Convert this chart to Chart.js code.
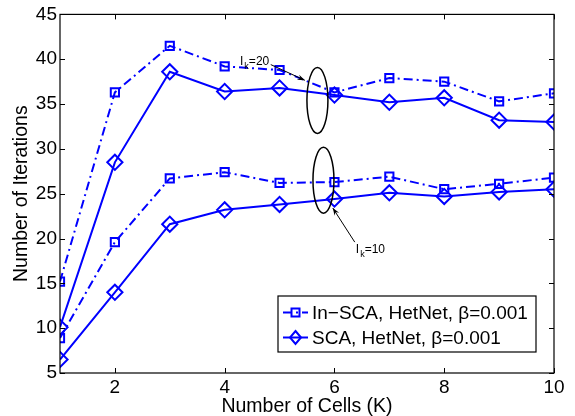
<!DOCTYPE html>
<html lang="en">
<head>
  <meta charset="UTF-8">
  <title>Number of Iterations vs Number of Cells</title>
  <script src="https://cdn.jsdelivr.net/npm/chart.js"></script>
  <style>
    body { margin: 0; background: #fff; }
    .wrap { width: 575px; height: 416px; position: relative; }
  </style>
</head>
<body>
  <div class="wrap"><canvas id="iterChart" width="575" height="416"></canvas></div>

  <script>
    // data
    const cells = [1, 2, 3, 4, 5, 6, 7, 8, 9, 10];
    const xTicks = [2, 4, 6, 8, 10];
    const yTicks = [5, 10, 15, 20, 25, 30, 35, 40, 45];

    const inSca20 = [15.2, 36.3, 41.5, 39.2, 38.8, 36.3, 37.9, 37.5, 35.3, 36.2];
    const sca20   = [10.1, 28.5, 38.6, 36.4, 36.8, 36.0, 35.2, 35.7, 33.2, 33.0];
    const inSca10 = [8.9, 19.6, 26.7, 27.4, 26.2, 26.3, 26.9, 25.5, 26.1, 26.8];
    const sca10   = [6.5, 14.0, 21.6, 23.2, 23.8, 24.4, 25.1, 24.7, 25.2, 25.5];

    const blue = '#0000ff';
    const font = '"Liberation Sans", Arial, sans-serif';
    const dashDot = [9, 4, 2, 4];

    const toXY = vals => vals.map((v, i) => ({ x: cells[i], y: v }));

    function series(label, vals, square) {
      return {
        label: label,
        data: toXY(vals),
        borderColor: blue,
        borderWidth: 2,
        borderDash: square ? dashDot : [],
        pointStyle: square ? 'rect' : 'rectRot',
        pointRadius: square ? 5.8 : 7.6,
        pointBorderWidth: 2,
        pointBorderColor: blue,
        pointBackgroundColor: 'rgba(0,0,0,0)',
        tension: 0,
        fill: false
      };
    }

    // MATLAB-like box, inside ticks, legend and the I_k annotations
    const figurePlugin = {
      id: 'figurePlugin',
      afterDraw(chart) {
        const ctx = chart.ctx;
        const a = chart.chartArea;
        const xs = chart.scales.x, ys = chart.scales.y;
        ctx.save();

        // box
        ctx.strokeStyle = '#000';
        ctx.lineWidth = 1.2;
        ctx.strokeRect(a.left, a.top, a.right - a.left, a.bottom - a.top);

        // inside ticks
        ctx.lineWidth = 1;
        ctx.beginPath();
        xTicks.forEach(t => {
          const px = Math.round(xs.getPixelForValue(t)) + 0.5;
          ctx.moveTo(px, a.bottom); ctx.lineTo(px, a.bottom - 5);
          ctx.moveTo(px, a.top); ctx.lineTo(px, a.top + 5);
        });
        yTicks.forEach(t => {
          const py = Math.round(ys.getPixelForValue(t)) + 0.5;
          ctx.moveTo(a.left, py); ctx.lineTo(a.left + 5, py);
          ctx.moveTo(a.right, py); ctx.lineTo(a.right - 5, py);
        });
        ctx.stroke();

        // ellipses
        function ellipse(cx, cy, rx, ry) {
          ctx.beginPath();
          ctx.ellipse(xs.getPixelForValue(cx), ys.getPixelForValue(cy), rx, ry, 0, 0, Math.PI * 2);
          ctx.stroke();
        }
        ctx.lineWidth = 1.5;
        ellipse(5.69, 35.4, 10.5, 33);
        ellipse(5.80, 26.5, 10.5, 33);

        // arrows
        function arrow(x0, y0, x1, y1) {
          const p0 = [xs.getPixelForValue(x0), ys.getPixelForValue(y0)];
          const p1 = [xs.getPixelForValue(x1), ys.getPixelForValue(y1)];
          ctx.lineWidth = 1;
          ctx.beginPath();
          ctx.moveTo(p0[0], p0[1]); ctx.lineTo(p1[0], p1[1]);
          ctx.stroke();
          const ang = Math.atan2(p1[1] - p0[1], p1[0] - p0[0]);
          const len = 8, wid = 0.35;
          ctx.beginPath();
          ctx.moveTo(p1[0], p1[1]);
          ctx.lineTo(p1[0] - len * Math.cos(ang - wid), p1[1] - len * Math.sin(ang - wid));
          ctx.lineTo(p1[0] - len * 0.6 * Math.cos(ang), p1[1] - len * 0.6 * Math.sin(ang));
          ctx.lineTo(p1[0] - len * Math.cos(ang + wid), p1[1] - len * Math.sin(ang + wid));
          ctx.closePath();
          ctx.fillStyle = '#000';
          ctx.fill();
        }
        arrow(4.84, 39.4, 5.46, 37.65);
        arrow(6.37, 19.6, 5.97, 23.4);

        // I_k labels
        function ik(x, y, val) {
          let px = xs.getPixelForValue(x), py = ys.getPixelForValue(y);
          ctx.fillStyle = '#000';
          ctx.textBaseline = 'middle';
          ctx.textAlign = 'left';
          ctx.font = '12px ' + font;
          ctx.fillText('I', px, py);
          px += ctx.measureText('I').width + 1;
          ctx.font = '9px ' + font;
          ctx.fillText('k', px, py + 5);
          px += ctx.measureText('k').width;
          ctx.font = '12px ' + font;
          ctx.fillText('=' + val, px, py);
        }
        ik(4.28, 39.76, 20);
        ik(6.39, 18.8, 10);

        // legend box, bottom right inside the axes
        const lx = 278, ly = 296, lw = 258, lh = 56;
        ctx.fillStyle = '#fff';
        ctx.fillRect(lx, ly, lw, lh);
        ctx.strokeStyle = '#000';
        ctx.lineWidth = 1.2;
        ctx.strokeRect(lx, ly, lw, lh);
        chart.data.datasets.slice(0, 2).forEach((ds, i) => {
          const cy = ly + 16.5 + i * 25;
          ctx.strokeStyle = blue;
          ctx.lineWidth = 2;
          ctx.setLineDash(ds.borderDash);
          ctx.beginPath();
          ctx.moveTo(lx + 5, cy); ctx.lineTo(lx + 30, cy);
          ctx.stroke();
          ctx.setLineDash([]);
          ctx.beginPath();
          if (ds.pointStyle === 'rect') {
            ctx.rect(lx + 13.5, cy - 4, 8, 8);
          } else {
            ctx.moveTo(lx + 17.5, cy - 6.5); ctx.lineTo(lx + 23, cy);
            ctx.lineTo(lx + 17.5, cy + 6.5); ctx.lineTo(lx + 12, cy);
            ctx.closePath();
          }
          ctx.stroke();
          ctx.fillStyle = '#000';
          ctx.font = '19px ' + font;
          ctx.textAlign = 'left';
          ctx.textBaseline = 'middle';
          ctx.fillText(ds.label, lx + 34, cy + 1);
        });

        ctx.restore();
      }
    };

    const ctx = document.getElementById('iterChart').getContext('2d');
    new Chart(ctx, {
      type: 'line',
      data: {
        datasets: [
          series('In\u2212SCA, HetNet, \u03b2=0.001', inSca20, true),
          series('SCA, HetNet, \u03b2=0.001', sca20, false),
          series('In-SCA lower', inSca10, true),
          series('SCA lower', sca10, false)
        ]
      },
      options: {
        responsive: false,
        animation: false,
        layout: { padding: { top: 14, right: 21, left: 0, bottom: 0 } },
        plugins: {
          legend: { display: false },
          tooltip: { enabled: false }
        },
        scales: {
          x: {
            type: 'linear',
            min: 1, max: 10,
            afterBuildTicks: s => { s.ticks = xTicks.map(v => ({ value: v })); },
            afterFit: s => { s.height = 43; },
            grid: { display: false, drawTicks: false },
            border: { display: false },
            ticks: { color: '#000', font: { family: font, size: 19 }, padding: 3, maxRotation: 0 },
            title: { display: true, text: 'Number of Cells (K)', color: '#000',
                     font: { family: font, size: 19.5, lineHeight: 1 }, padding: { top: 0, bottom: 0 } }
          },
          y: {
            min: 5, max: 45,
            afterBuildTicks: s => { s.ticks = yTicks.map(v => ({ value: v })); },
            afterFit: s => { s.width = 60; },
            grid: { display: false, drawTicks: false },
            border: { display: false },
            ticks: { color: '#000', font: { family: font, size: 19 }, padding: 3 },
            title: { display: true, text: 'Number of Iterations', color: '#000',
                     font: { family: font, size: 19.5, lineHeight: 1 }, padding: { top: 11.5, bottom: 0 } }
          }
        }
      },
      plugins: [figurePlugin]
    });
  </script>
</body>
</html>
